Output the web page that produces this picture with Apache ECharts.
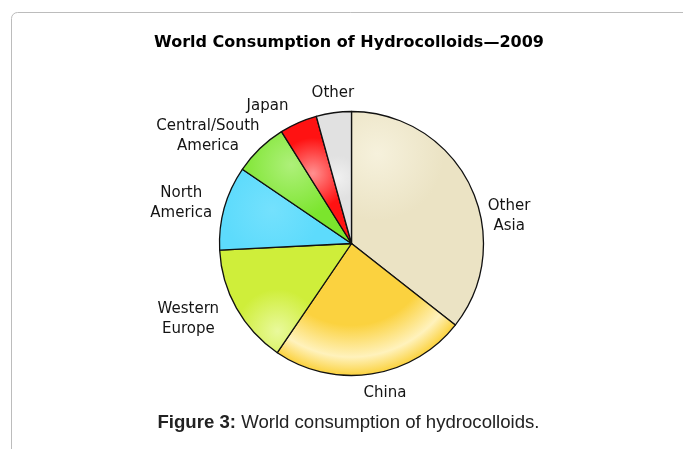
<!DOCTYPE html>
<html>
<head>
<meta charset="utf-8">
<script src="https://cdn.jsdelivr.net/npm/echarts@6/dist/echarts.min.js"></script>
<style>
  html, body { margin: 0; padding: 0; background: #ffffff; }
  #chart { width: 683px; height: 449px; }
</style>
</head>
<body>
<div id="chart"></div>
<script>
// Consumption share by region, 2009 (percent), clockwise from 12 o'clock
const regions = ['Other\nAsia', 'China', 'Western\nEurope', 'North\nAmerica', 'Central/South\nAmerica', 'Japan', 'Other'];
const shares = [35.6, 23.9, 14.7, 10.3, 6.6, 4.6, 4.3];

// Slice fills: base colour plus a soft glossy highlight
const baseColors = ['#ebe3c4', '#fbd23f', '#cfee3a', '#5ddbfc', '#7be52d', '#ff1212', '#e1e1e1'];
const glowColors = ['#f6f1dc', '#fff2bc', '#e9f99c', '#74e1fd', '#aef07a', '#ff9090', '#f0f0f0'];
// 'spot': [x, y, r] inside the slice box; 'rim': a band just inside the pie edge
const glowKinds = ['spot', 'rim', 'spot', 'spot', 'spot', 'spot', 'spot'];
const glowSpots = [[0.2, 0.2, 0.5], null, [0.44, 0.8, 0.38], [0.4, 0.5, 0.6], [0.45, 0.3, 0.5], [0.45, 0.45, 0.5], [0.6, 0.5, 0.6]];

// Label placement: angular nudge from the slice middle (deg) and distance from centre (px)
const labelNudge = [16, -3.8, 4.4, -2.3, -9.4, -7.7, 0.7];
const labelDist = [160, 153, 180, 175, 179, 161, 152];

const cx = 351.5, cy = 243.5, R = 132;

const total = shares.reduce((s, v) => s + v, 0);
const midAngles = [];
let acc = 0;
shares.forEach(v => { midAngles.push((acc + v / 2) / total * 360); acc += v; });

function sliceFill(i) {
  if (glowKinds[i] === 'rim') {
    return {
      type: 'radial', global: true, x: cx, y: cy, r: R,
      colorStops: [
        { offset: 0, color: baseColors[i] },
        { offset: 0.62, color: baseColors[i] },
        { offset: 0.86, color: glowColors[i] },
        { offset: 1, color: baseColors[i] }
      ]
    };
  }
  const s = glowSpots[i];
  return {
    type: 'radial', x: s[0], y: s[1], r: s[2],
    colorStops: [
      { offset: 0, color: glowColors[i] },
      { offset: 1, color: baseColors[i] }
    ]
  };
}

const pieData = regions.map((name, i) => ({
  name: name,
  value: shares[i],
  itemStyle: { color: sliceFill(i) }
}));

const chart = echarts.init(document.getElementById('chart'), null, { renderer: 'canvas' });
chart.setOption({
  animation: false,
  backgroundColor: '#ffffff',
  graphic: [
    {
      type: 'rect', z: -1, silent: true,
      shape: { x: 11.5, y: 12.5, width: 900, height: 700, r: 6 },
      style: { fill: 'none', stroke: '#bcbcbc', lineWidth: 1 }
    },
    {
      type: 'text', x: 349, y: 43,
      style: {
        text: 'World Consumption of Hydrocolloids\u20142009',
        font: 'bold 16px "DejaVu Sans"',
        fill: '#000000', textAlign: 'center', textVerticalAlign: 'middle'
      }
    },
    {
      type: 'text', x: 348.5, y: 423,
      style: {
        text: '{b|Figure 3:} World consumption of hydrocolloids.',
        fontFamily: '"Liberation Sans", Arial, sans-serif',
        fontSize: 18.6, fill: '#222222',
        textAlign: 'center', textVerticalAlign: 'middle',
        rich: { b: { fontWeight: 'bold', fontSize: 18.6, fontFamily: '"Liberation Sans", Arial, sans-serif', fill: '#222222' } }
      }
    }
  ],
  series: [{
    type: 'pie',
    center: [cx, cy],
    radius: R,
    startAngle: 90,
    clockwise: true,
    avoidLabelOverlap: false,
    silent: true,
    data: pieData,
    itemStyle: { borderColor: '#111111', borderWidth: 1.3 },
    label: {
      show: true,
      position: 'outside',
      formatter: '{b}',
      fontFamily: '"DejaVu Sans", Verdana, sans-serif',
      fontSize: 15,
      lineHeight: 20,
      color: '#141414',
      align: 'center'
    },
    labelLine: { show: false },
    labelLayout: function (p) {
      const i = p.dataIndex;
      const a = (midAngles[i] + labelNudge[i]) * Math.PI / 180;
      return {
        x: cx + labelDist[i] * Math.sin(a),
        y: cy - labelDist[i] * Math.cos(a),
        align: 'center',
        verticalAlign: 'middle'
      };
    }
  }]
});
</script>
</body>
</html>
